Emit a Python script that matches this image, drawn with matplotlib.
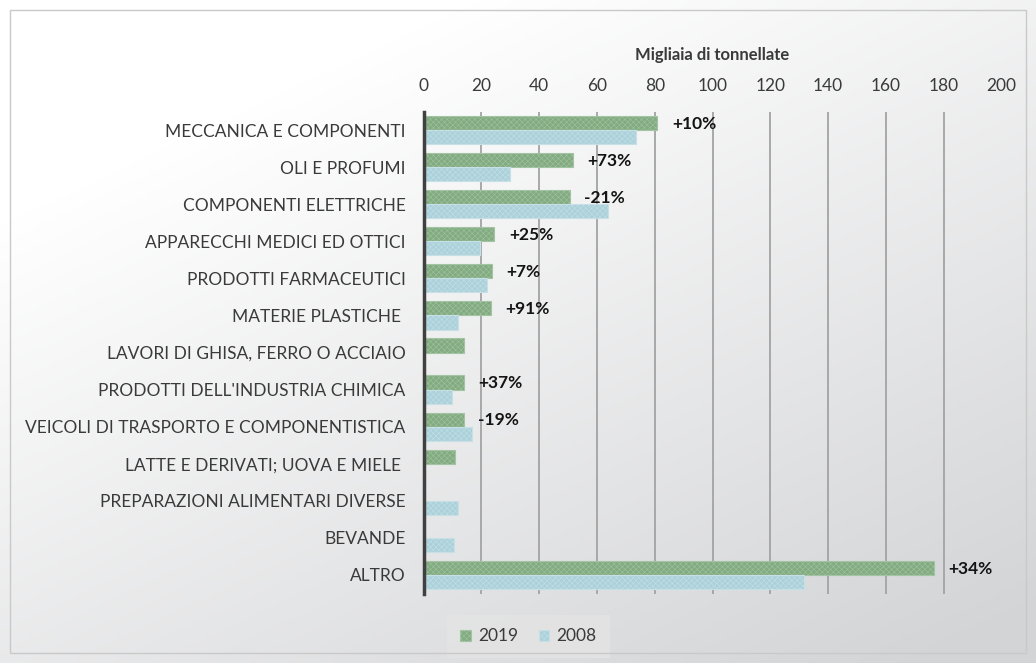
import numpy as np
import matplotlib
matplotlib.use("Agg")
import matplotlib.pyplot as plt
from matplotlib.patches import Rectangle

plt.rcParams['font.family'] = ['Lato', 'DejaVu Sans']
plt.rcParams['hatch.linewidth'] = 0.35

categories = ["MECCANICA E COMPONENTI", "OLI E PROFUMI", "COMPONENTI ELETTRICHE",
              "APPARECCHI MEDICI ED OTTICI", "PRODOTTI FARMACEUTICI", "MATERIE PLASTICHE ",
              "LAVORI DI GHISA, FERRO O ACCIAIO", "PRODOTTI DELL'INDUSTRIA CHIMICA",
              "VEICOLI DI TRASPORTO E COMPONENTISTICA", "LATTE E DERIVATI; UOVA E MIELE ",
              "PREPARAZIONI ALIMENTARI DIVERSE", "BEVANDE", "ALTRO"]
v2019 = [80.9, 51.8, 50.6, 24.5, 23.6, 23.2, 13.9, 13.9, 14.0, 10.8, 0, 0, 176.6]
v2008 = [73.5, 29.8, 63.9, 19.4, 22.0, 12.0, 0, 10.0, 16.9, 0, 12.0, 10.6, 131.6]
changes = ["+10%", "+73%", "-21%", "+25%", "+7%", "+91%", "", "+37%", "-19%", "", "", "", "+34%"]
xticks = [0, 20, 40, 60, 80, 100, 120, 140, 160, 180, 200]

fig = plt.figure(figsize=(10.36, 6.63), dpi=100)

# background gradient
bg = fig.add_axes([0, 0, 1, 1], zorder=-10)
gx, gy = np.meshgrid(np.linspace(0, 1, 300), np.linspace(0, 1, 200))
g = np.clip(0.55 * gx + 0.75 * gy - 0.25, 0, 1)
bg.imshow(g, cmap=matplotlib.colors.LinearSegmentedColormap.from_list(
    "bgc", ["#ffffff", "#d3d4d6"]), aspect="auto", extent=[0, 1, 0, 1], origin="upper")
bg.set_axis_off()
fig.patches.append(Rectangle((10 / 1036, 10 / 663), 1016 / 1036, 643 / 663,
                             transform=fig.transFigure, fill=False,
                             edgecolor="#c9c9c9", linewidth=1))

ax = fig.add_axes([423.5 / 1036, 1 - 593.5 / 663, 578 / 1036, 482 / 663])
ax.patch.set_alpha(0)
y = np.arange(len(categories))
h = 0.38

ax.vlines(xticks[1:-1], -0.5, 12.5, color="#a3a3a3", linewidth=1.3, zorder=0)
ax.barh(y - h / 2, v2019, height=h, color="#82ab81", edgecolor="#a3c4a2",
        hatch="xxxxxx", linewidth=0.8, label="2019", zorder=2)
ax.barh(y + h / 2, v2008, height=h, color="#abd1da", edgecolor="#c6e0e6",
        hatch="xxxxxx", linewidth=0.8, label="2008", zorder=2)

for i, txt in enumerate(changes):
    if txt:
        ax.text(v2019[i] + 5, y[i] - h / 2 + 0.02, txt, fontsize=12.5, fontweight="bold",
                color="#141414", va="center", ha="left")

ax.set_xlim(0, 200)
ax.set_ylim(12.5, -0.5)
ax.set_yticks(y)
ax.set_yticklabels(categories, fontsize=12.5, color="#3a3a3a")
ax.tick_params(axis="y", length=0, pad=13)
ax.xaxis.tick_top()
ax.set_xticks(xticks)
ax.tick_params(axis="x", top=False, labelsize=12.5, labelcolor="#3a3a3a", pad=9)
ax.xaxis.set_label_position("top")
ax.set_xlabel("Migliaia di tonnellate", fontsize=12, fontweight="bold",
              color="#3a3a3a", labelpad=13)
for s in ["top", "right", "bottom"]:
    ax.spines[s].set_visible(False)
ax.spines["left"].set_color("#404040")
ax.spines["left"].set_linewidth(2.5)

leg = ax.legend(loc="center", bbox_to_anchor=(0.51, 0.04), bbox_transform=fig.transFigure,
                ncol=2, frameon=True, fontsize=12.5, handlelength=0.6, handleheight=0.6,
                columnspacing=1.2, handletextpad=0.4, borderpad=0.5)
leg.get_frame().set_facecolor("#e4e4e4")
leg.get_frame().set_edgecolor("none")
leg.get_frame().set_boxstyle("square")
for t in leg.get_texts():
    t.set_color("#3a3a3a")

fig.savefig("out.png", dpi=100)
